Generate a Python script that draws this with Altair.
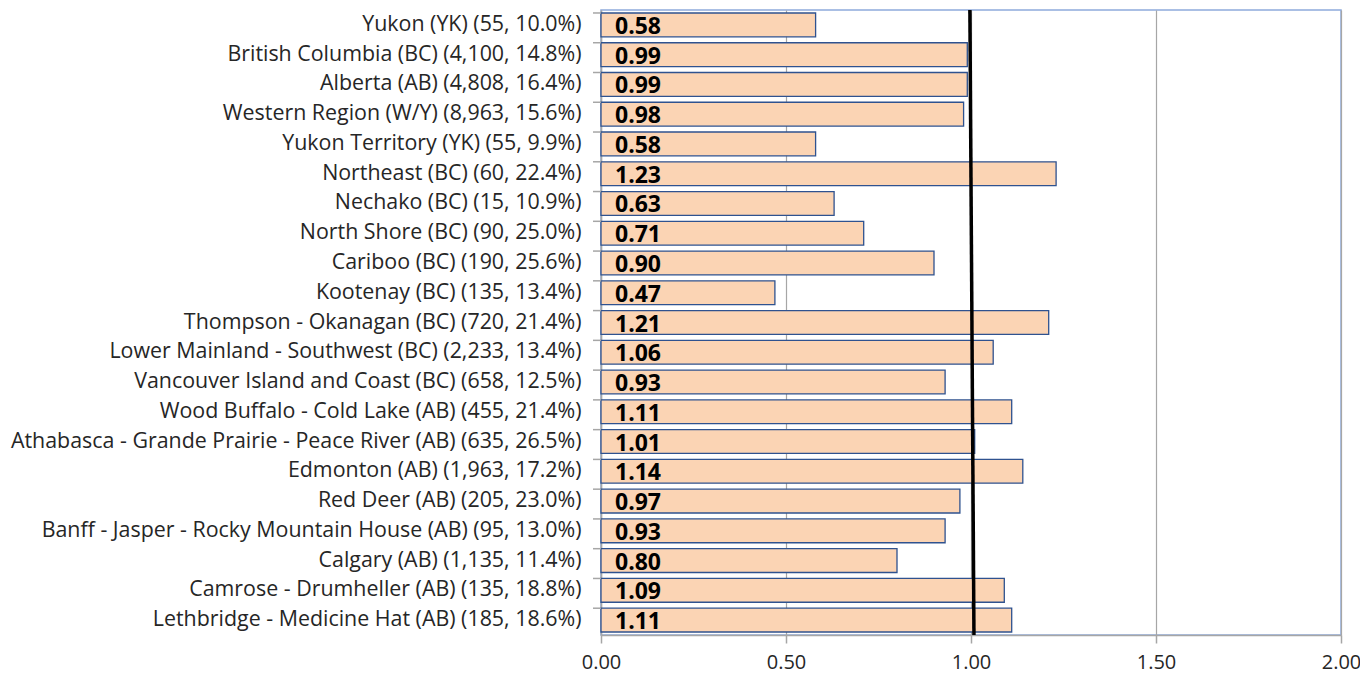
import altair as alt
import pandas as pd

categories = [
    "Yukon (YK) (55, 10.0%)",
    "British Columbia (BC) (4,100, 14.8%)",
    "Alberta (AB) (4,808, 16.4%)",
    "Western Region (W/Y) (8,963, 15.6%)",
    "Yukon Territory (YK) (55, 9.9%)",
    "Northeast (BC) (60, 22.4%)",
    "Nechako (BC) (15, 10.9%)",
    "North Shore (BC) (90, 25.0%)",
    "Cariboo (BC) (190, 25.6%)",
    "Kootenay (BC) (135, 13.4%)",
    "Thompson - Okanagan (BC) (720, 21.4%)",
    "Lower Mainland - Southwest (BC) (2,233, 13.4%)",
    "Vancouver Island and Coast (BC) (658, 12.5%)",
    "Wood Buffalo - Cold Lake (AB) (455, 21.4%)",
    "Athabasca - Grande Prairie - Peace River (AB) (635, 26.5%)",
    "Edmonton (AB) (1,963, 17.2%)",
    "Red Deer (AB) (205, 23.0%)",
    "Banff - Jasper - Rocky Mountain House (AB) (95, 13.0%)",
    "Calgary (AB) (1,135, 11.4%)",
    "Camrose - Drumheller (AB) (135, 18.8%)",
    "Lethbridge - Medicine Hat (AB) (185, 18.6%)",
]
values = [0.58, 0.99, 0.99, 0.98, 0.58, 1.23, 0.63, 0.71, 0.90, 0.47, 1.21,
          1.06, 0.93, 1.11, 1.01, 1.14, 0.97, 0.93, 0.80, 1.09, 1.11]
x_ticks = [0.0, 0.5, 1.0, 1.5, 2.0]
ref_line = {"x_top": 0.997, "x_bottom": 1.008}

df = pd.DataFrame({"cat": categories, "val": values})
ref_df = pd.DataFrame([ref_line])

FONT = "Open Sans"
PLOT_H = 625

y_enc = alt.Y("cat:N", sort=categories, title=None,
              scale=alt.Scale(paddingInner=0.2, paddingOuter=0.1),
              axis=alt.Axis(labelFont=FONT, labelFontSize=21.4, labelColor="#262626",
                            labelLimit=700, labelPadding=20, ticks=False,
                            domain=True, domainColor="#A6A6A6", domainWidth=1.5))
x_scale = alt.Scale(domain=[0, 2], nice=False)

bars = alt.Chart(df).mark_bar(
    fill="#FBD4B4", stroke="#2F528F", strokeWidth=1.3
).encode(
    x=alt.X("val:Q", scale=x_scale, title=None,
            axis=alt.Axis(values=x_ticks, format=".2f", labelFont=FONT,
                          labelFontSize=20, labelColor="#262626", labelPadding=9,
                          labelFlush=False,
                          tickSize=8, tickColor="#A6A6A6", tickWidth=1.5,
                          domainColor="#A6A6A6", domainWidth=1.5,
                          grid=True, gridColor="#A6A6A6", gridWidth=1.2)),
    y=y_enc,
)

ticks = alt.Chart(df).mark_rule(color="#A6A6A6", strokeWidth=1.5).encode(
    y=alt.Y("cat:N", sort=categories, bandPosition=0),
    x=alt.value(-8), x2=alt.value(0),
)

labels = alt.Chart(df).mark_text(
    align="left", baseline="middle", dx=14, dy=2, font=FONT, fontSize=23,
    fontWeight="bold", color="#000000"
).encode(
    x=alt.datum(0),
    y=alt.Y("cat:N", sort=categories),
    text=alt.Text("val:Q", format=".2f"),
)

ref = alt.Chart(ref_df).mark_rule(color="#000000", strokeWidth=3.5).encode(
    x=alt.X("x_top:Q", scale=x_scale),
    x2="x_bottom:Q",
    y=alt.value(0),
    y2=alt.value(PLOT_H),
)

chart = alt.layer(bars, ticks, labels, ref).properties(
    width=740, height=PLOT_H,
    autosize=alt.AutoSizeParams(type="none"),
    padding={"left": 593, "top": 2, "right": 19, "bottom": 41},
).configure_view(stroke="#8FAADC", strokeWidth=1.5)

chart.save("out.html", embed_options={"renderer": "svg", "actions": False})
